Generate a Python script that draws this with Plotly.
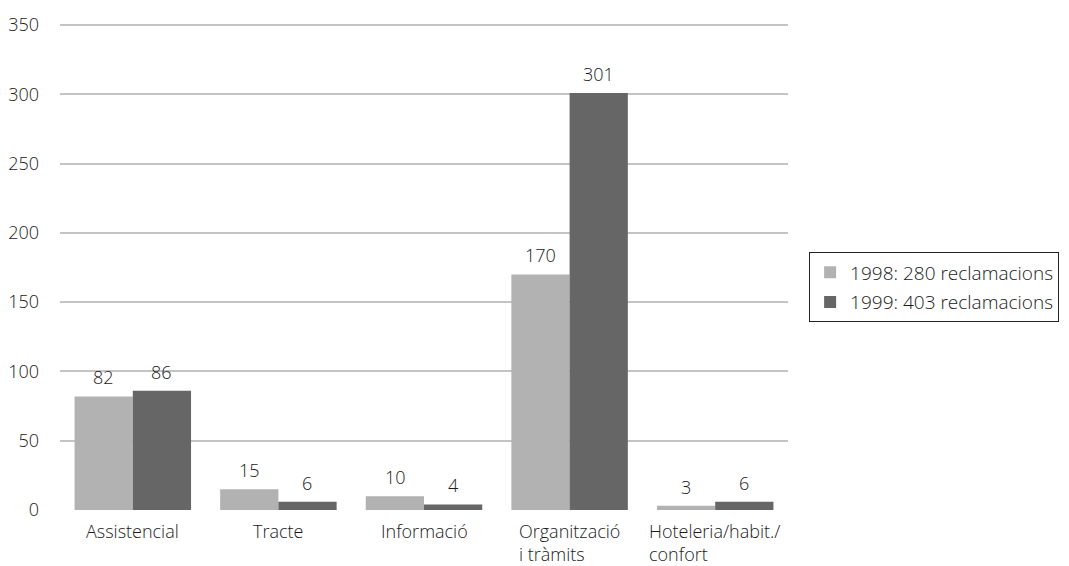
import plotly.graph_objects as go

# Complaint categories and yearly counts
categories = ["Assistencial", "Tracte", "Informació",
              "Organització<br>i tràmits", "Hoteleria/habit./<br>confort"]
values_1998 = [82, 15, 10, 170, 3]
values_1999 = [86, 6, 4, 301, 6]
series_names = ["1998: 280 reclamacions", "1999: 403 reclamacions"]
y_ticks = [0, 50, 100, 150, 200, 250, 300, 350]

FONT = "Open Sans"
TEXT = "#1a1a1a"
WEIGHT = 300
COLORS = ["#b2b2b2", "#666666"]

fig = go.Figure()
series = [values_1998, values_1999]
for i, (name, vals) in enumerate(zip(series_names, series)):
    fig.add_trace(go.Bar(
        x=categories, y=vals, name=name, legendgroup=name,
        marker=dict(color=COLORS[i], line=dict(width=0)),
        cliponaxis=False,
    ))
    # value labels sitting a little above each bar of the group
    for cat, v in zip(categories, vals):
        fig.add_annotation(
            x=cat, y=v, xref="x", yref="y", xshift=-29 if i == 0 else 29,
            yshift=5, yanchor="bottom", xanchor="center", showarrow=False,
            text=str(v),
            font=dict(family=FONT, size=18, color=TEXT, weight=WEIGHT),
        )

# Category labels under the axis, lines left-aligned within each label
for cat in categories:
    fig.add_annotation(
        x=cat, xref="x", y=0, yref="paper", yanchor="top", xanchor="center",
        yshift=-7, text=cat, showarrow=False, align="left",
        font=dict(family=FONT, size=18, color=TEXT, weight=WEIGHT),
    )

fig.update_layout(
    width=1069, height=566,
    margin=dict(l=60, r=281, t=23, b=56, autoexpand=False),
    paper_bgcolor="white", plot_bgcolor="white",
    barmode="group", bargap=0.2, bargroupgap=0,
    font=dict(family=FONT, size=18, color=TEXT, weight=WEIGHT),
    showlegend=True,
    legend=dict(
        x=1.029, xanchor="left", y=0.457, yanchor="middle",
        bordercolor="#222222", borderwidth=1,
        font=dict(family=FONT, size=19, color=TEXT, weight=WEIGHT),
        itemwidth=30, tracegroupgap=2,
    ),
)
fig.update_xaxes(showticklabels=False, showgrid=False, showline=False,
                 zeroline=False, ticks="")
fig.update_yaxes(range=[0, 351.5], tickmode="array", tickvals=y_ticks,
                 showgrid=True, gridcolor="#c4c4c4", gridwidth=2,
                 zeroline=True, zerolinecolor="rgba(0,0,0,0)",
                 showline=False, ticks="", ticklabelstandoff=20,
                 tickfont=dict(family=FONT, size=18, color=TEXT,
                               weight=WEIGHT))

fig.write_html("out.html")
